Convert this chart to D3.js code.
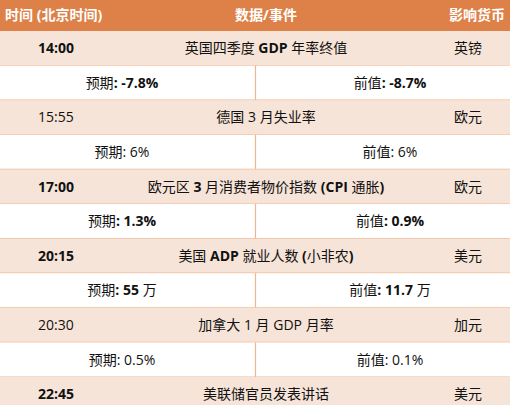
<!DOCTYPE html>
<html><head><meta charset="utf-8">
<script src="https://cdn.jsdelivr.net/npm/d3@7"></script>
<style>body{margin:0;background:#fff}</style>
</head><body>
<script>
var times = ["14:00", "15:55", "17:00", "20:15", "20:30", "22:45"];
var events = ["英国四季度 GDP 年率终值", "德国 3 月失业率", "欧元区 3 月消费者物价指数 (CPI 通胀)", "美国 ADP 就业人数 (小非农)", "加拿大 1 月 GDP 月率", "美联储官员发表讲话"];
var currencies = ["英镑", "欧元", "欧元", "美元", "加元", "美元"];
var forecasts = ["-7.8%", "6%", "1.3%", "55 万", "0.5%", null];
var previous = ["-8.7%", "6%", "0.9%", "11.7 万", "0.1%", null];
var boldRows = [true, false, true, true, false, true];
var headers = ["时间 (北京时间)", "数据/事件", "影响货币"];

var W = 510, H = 405, headH = 31, rowH = 34.6;
var font = "'Open Sans', 'Noto Sans CJK SC', sans-serif";
var svg = d3.select("body").append("svg").attr("width", W).attr("height", H);

svg.append("rect").attr("width", W).attr("height", headH).attr("fill", "#dd8148");
var hx = [5, 266, 505], ha = ["start", "middle", "end"];
svg.selectAll(".hd").data(headers).enter().append("text")
    .attr("x", function(d, i){ return hx[i]; }).attr("y", 20)
    .attr("text-anchor", function(d, i){ return ha[i]; })
    .attr("fill", "#fff").attr("font-family", font).attr("font-size", 14).attr("font-weight", "bold")
    .text(function(d){ return d; });

var lines = [];
times.forEach(function(t, i){
    lines.push({type: "event", i: i});
    if (forecasts[i] !== null) lines.push({type: "detail", i: i});
});
var y = d3.scaleLinear().domain([0, 1]).range([headH, headH + rowH]);

var g = svg.selectAll(".row").data(lines).enter().append("g")
    .attr("transform", function(d, k){ return "translate(0," + y(k) + ")"; });

g.append("rect").attr("width", W).attr("height", rowH)
    .attr("fill", function(d){ return d.type == "event" ? "#f7e4d8" : "#fff"; });
g.append("line").attr("x1", 0).attr("x2", W).attr("y1", rowH).attr("y2", rowH)
    .attr("stroke", "#efb58f").attr("stroke-width", 1.2);

// split text into CJK / latin runs; latin runs bold on bold rows
function runs(s) {
    return s.match(/[\u3000-\u9fff\uff00-\uffef]+|[^\u3000-\u9fff\uff00-\uffef]+/g);
}
function txt(sel, x, anchor, f) {
    var t = sel.append("text").attr("x", x).attr("y", rowH / 2 + 5).attr("text-anchor", anchor)
        .attr("font-family", font).attr("font-size", 14).attr("fill", "#111");
    t.each(function(d){
        var el = d3.select(this);
        runs(f(d)).forEach(function(r){
            var cjk = /[\u3000-\u9fff\uff00-\uffef]/.test(r);
            el.append("tspan").text(r)
                .attr("font-weight", boldRows[d.i] && !cjk ? "bold" : "normal");
        });
    });
}
var ev = g.filter(function(d){ return d.type == "event"; });
txt(ev, 38, "start", function(d){ return times[d.i]; });
txt(ev, 266, "middle", function(d){ return events[d.i]; });
txt(ev, 482, "end", function(d){ return currencies[d.i]; });

var det = g.filter(function(d){ return d.type == "detail"; });
det.append("line").attr("x1", 255.5).attr("x2", 255.5).attr("y1", 0).attr("y2", rowH)
    .attr("stroke", "#efb58f").attr("stroke-width", 1.2);
txt(det, 122, "middle", function(d){ return "预期: " + forecasts[d.i]; });
txt(det, 390, "middle", function(d){ return "前值: " + previous[d.i]; });
</script>
</body></html>
